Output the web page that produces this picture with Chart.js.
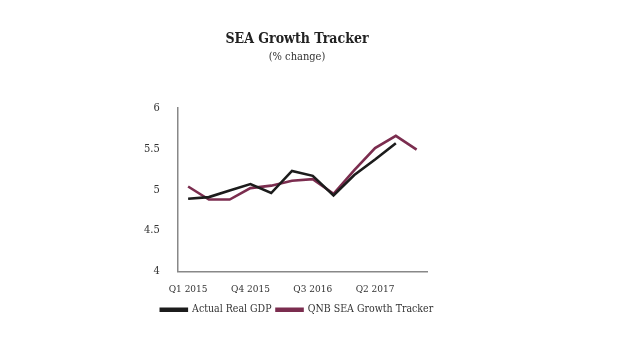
<!DOCTYPE html>
<html><head><meta charset="utf-8">
<script src="https://cdn.jsdelivr.net/npm/chart.js@4"></script>
<style>html,body{margin:0;padding:0;background:#fff}#wrap{width:620px;height:355px;position:relative}</style>
</head><body><div id="wrap"><canvas id="c" width="620" height="355"></canvas></div>
<script>
const categories = ["Q1 2015","Q2 2015","Q3 2015","Q4 2015","Q1 2016","Q2 2016","Q3 2016","Q4 2016","Q1 2017","Q2 2017","Q3 2017","Q4 2017"];
const actualGDP = [4.89,4.91,4.99,5.07,4.96,5.23,5.17,4.93,5.18,5.37,5.57,null];
const trackerSEA = [5.04,4.88,4.88,5.02,5.05,5.11,5.13,4.95,5.24,5.51,5.66,5.49];
const yTicks = [4,4.5,5,5.5,6];
const FONT = "'DejaVu Serif Condensed', 'DejaVu Serif', serif";

new Chart(document.getElementById('c'), {
  type: 'line',
  data: {
    labels: categories,
    datasets: [
      {label:'Actual Real GDP', data: actualGDP, borderColor:'#1c1c1c', backgroundColor:'#1c1c1c', borderWidth:2.6, pointRadius:0, tension:0},
      {label:'QNB SEA Growth Tracker', data: trackerSEA, borderColor:'#7b2d4f', backgroundColor:'#7b2d4f', borderWidth:2.6, pointRadius:0, tension:0}
    ]
  },
  options: {
    responsive:false, animation:false,
    layout:{padding:{left:134,right:160,top:31,bottom:30}},
    plugins:{
      title:{display:true,text:'SEA Growth Tracker',color:'#222',font:{family:FONT,size:14,weight:'bold'},padding:{top:0,bottom:3}},
      subtitle:{display:true,text:'(% change)',color:'#333',font:{family:FONT,size:11},padding:{top:0,bottom:44}},
      legend:{position:'bottom',labels:{color:'#333',font:{family:FONT,size:10.5},boxWidth:26,boxHeight:2,padding:5}},
      tooltip:{enabled:false}
    },
    scales:{
      x:{offset:true,grid:{display:false},border:{display:true,color:'#888',width:1.5},
         ticks:{color:'#333',font:{family:FONT,size:10},autoSkip:false,maxRotation:0,padding:4,
           callback:function(v,i){return i%3===0?categories[i]:'';}}},
      y:{min:4,max:6,grid:{display:false},border:{display:true,color:'#888',width:1.5},
         afterBuildTicks:function(s){s.ticks=yTicks.map(v=>({value:v}));},
         ticks:{color:'#333',font:{family:FONT,size:11},padding:10,callback:function(v){return String(v);}}},
      y2:{position:'right',min:0,max:1,grid:{display:false},border:{display:false},ticks:{display:false},
         afterFit:function(s){s.width=33;}}
    }
  }
});
</script></body></html>
